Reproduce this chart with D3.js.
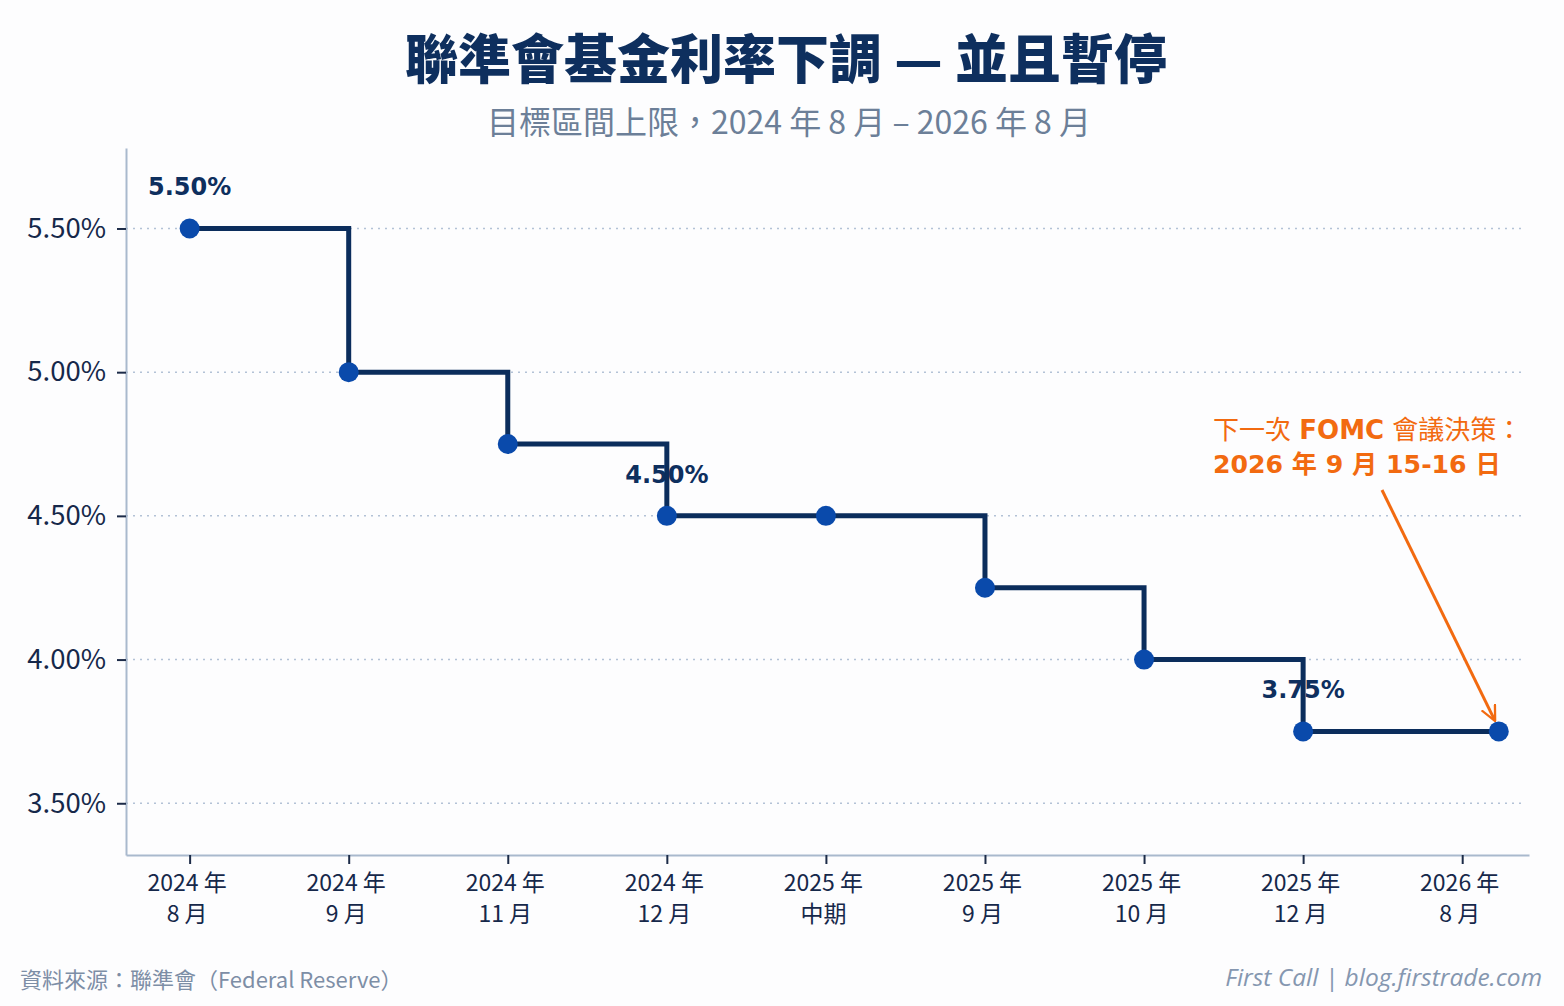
<!DOCTYPE html>
<html>
<head>
<meta charset="utf-8">
<script src="https://cdn.jsdelivr.net/npm/d3@7"></script>
<style>
  body { margin: 0; background: #fdfdfe; }
  svg { display: block; }
</style>
</head>
<body>
<script>
// tick labels along the x axis (two lines each)
var tickYears = ["2024 年", "2024 年", "2024 年", "2024 年", "2025 年", "2025 年", "2025 年", "2025 年", "2026 年"];
var tickMonths = ["8 月", "9 月", "11 月", "12 月", "中期", "9 月", "10 月", "12 月", "8 月"];
// step points: x index and rate (upper bound, %)
var pointX = [0, 1, 2, 3, 4, 5, 6, 7, 8.23];
var rates = [5.50, 5.00, 4.75, 4.50, 4.50, 4.25, 4.00, 3.75, 3.75];
var yTicks = [3.50, 4.00, 4.50, 5.00, 5.50];
// which points carry a value label
var labelled = [0, 3, 7];

var W = 1564, H = 1006;
var CJK = "'Noto Sans CJK TC', 'Noto Sans CJK SC', sans-serif";
var MIX = "'DejaVu Sans', 'Noto Sans CJK TC', sans-serif";
var ORANGE = "#f26a10";

var svg = d3.select("body").append("svg").attr("width", W).attr("height", H);

var x = d3.scaleLinear().domain([-0.4, 8.42]).range([126, 1529]);
var y = d3.scaleLinear().domain([3.32, 5.78]).range([855, 148]);

// title
svg.append("text").attr("x", 786).attr("y", 79).attr("text-anchor", "middle")
	.style("font-family", CJK).style("font-weight", 900).style("font-size", "53px")
	.attr("fill", "#0e2f5e").text("聯準會基金利率下調 — 並且暫停");
svg.append("text").attr("x", 789).attr("y", 134).attr("text-anchor", "middle")
	.style("font-family", CJK).style("font-size", "32px")
	.attr("fill", "#6c7f98").text("目標區間上限，2024 年 8 月 – 2026 年 8 月");

// grid
svg.append("g").selectAll("line").data(yTicks).enter().append("line")
	.attr("x1", 126).attr("x2", 1526)
	.attr("y1", function(d){ return y(d); }).attr("y2", function(d){ return y(d); })
	.attr("stroke", "#b3c2d6").attr("stroke-width", 1.5).attr("stroke-dasharray", "2,5");

// y axis
var yAxis = svg.append("g").attr("transform", "translate(126,0)")
	.call(d3.axisLeft(y).tickValues(yTicks).tickSizeInner(9).tickSizeOuter(0).tickPadding(11)
		.tickFormat(function(d){ return d.toFixed(2) + "%"; }));
yAxis.select(".domain").attr("stroke", "#a9b9cd").attr("stroke-width", 2);
yAxis.selectAll(".tick line").attr("stroke", "#1c2b48").attr("stroke-width", 2);
yAxis.selectAll(".tick text").style("font-family", CJK).style("font-size", "27.5px").attr("fill", "#16284a");

// x axis
var xAxis = svg.append("g").attr("transform", "translate(0,855)")
	.call(d3.axisBottom(x).tickValues(d3.range(tickYears.length)).tickSizeInner(9).tickSizeOuter(0).tickFormat(""));
xAxis.select(".domain").attr("stroke", "#a9b9cd").attr("stroke-width", 2);
xAxis.selectAll(".tick line").attr("stroke", "#1c2b48").attr("stroke-width", 2);
xAxis.selectAll(".tick").each(function(d, i){
	var t = d3.select(this).append("text").attr("text-anchor", "middle")
		.style("font-family", CJK).style("font-size", "23px").attr("fill", "#16284a");
	t.append("tspan").attr("x", -3).attr("y", 36).text(tickYears[i]);
	t.append("tspan").attr("x", -3).attr("y", 67).text(tickMonths[i]);
});

var pts = pointX.map(function(v, i){ return [v, rates[i]]; });

// value labels (drawn under the line)
svg.append("g").selectAll("text").data(labelled).enter().append("text")
	.attr("x", function(i){ return x(pts[i][0]); })
	.attr("y", function(i){ return y(pts[i][1]) - 33; })
	.attr("text-anchor", "middle")
	.style("font-family", MIX).style("font-weight", "bold").style("font-size", "24px")
	.attr("fill", "#0e2f5e").text(function(i){ return pts[i][1].toFixed(2) + "%"; });

// step line
var line = d3.line().x(function(d){ return x(d[0]); }).y(function(d){ return y(d[1]); }).curve(d3.curveStepAfter);
svg.append("path").datum(pts).attr("d", line).attr("fill", "none")
	.attr("stroke", "#0b2d5c").attr("stroke-width", 5).attr("stroke-linejoin", "miter");

svg.append("g").selectAll("circle").data(pts).enter().append("circle")
	.attr("cx", function(d){ return x(d[0]); }).attr("cy", function(d){ return y(d[1]); })
	.attr("r", 10).attr("fill", "#0a4aab");

// annotation
var ann = svg.append("g").style("font-family", MIX).style("font-size", "26px").attr("fill", ORANGE);
var a1 = ann.append("text").attr("x", 1213).attr("y", 439);
a1.append("tspan").text("下一次 ");
a1.append("tspan").style("font-weight", "bold").text("FOMC");
a1.append("tspan").text(" 會議決策：");
ann.append("text").attr("x", 1213).attr("y", 473).style("font-weight", "bold").style("font-size", "25.2px")
	.text("2026 年 9 月 15-16 日");

var last = pts[pts.length - 1];
var ax0 = 1382, ay0 = 490, ax1 = x(last[0]) - 4, ay1 = y(last[1]) - 11;
svg.append("defs").append("marker").attr("id", "arr").attr("viewBox", "0 0 10 10")
	.attr("refX", 9).attr("refY", 5).attr("markerWidth", 5.5).attr("markerHeight", 5.5)
	.attr("markerUnits", "strokeWidth").attr("orient", "auto")
	.append("path").attr("d", "M0,0.5 L9.5,5 L0,9.5").attr("fill", "none").attr("stroke", ORANGE).attr("stroke-width", 1.4);
svg.append("line").attr("x1", ax0).attr("y1", ay0).attr("x2", ax1).attr("y2", ay1)
	.attr("stroke", ORANGE).attr("stroke-width", 3).attr("marker-end", "url(#arr)");

// footer
svg.append("text").attr("x", 20).attr("y", 988)
	.style("font-family", CJK).style("font-size", "22px").attr("fill", "#7d8ea6")
	.text("資料來源：聯準會（Federal Reserve）");
svg.append("text").attr("x", 1542).attr("y", 986).attr("text-anchor", "end")
	.style("font-family", "'Open Sans', 'DejaVu Sans', sans-serif").style("font-style", "italic").style("font-size", "24.5px")
	.attr("fill", "#8597b0").text("First Call | blog.firstrade.com");
</script>
</body>
</html>
